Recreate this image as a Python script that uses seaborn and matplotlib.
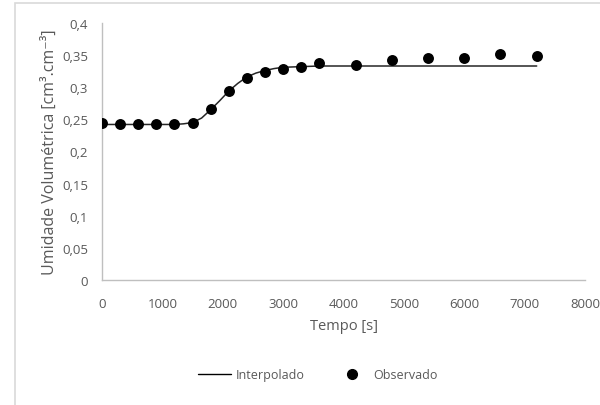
import matplotlib
matplotlib.use("Agg")
import matplotlib.pyplot as plt
from matplotlib.patches import Rectangle
from matplotlib.lines import Line2D
import seaborn as sns
import pandas as pd

# Observed moisture readings
tempo_obs = [0, 300, 600, 900, 1200, 1500, 1800, 2100, 2400, 2700, 3000,
             3300, 3600, 4200, 4800, 5400, 6000, 6600, 7200]
umidade_obs = [0.244, 0.242, 0.243, 0.242, 0.242, 0.245, 0.266, 0.294,
               0.315, 0.324, 0.329, 0.332, 0.338, 0.335, 0.342, 0.345,
               0.345, 0.352, 0.348]

# Interpolated curve
tempo_int = [0, 600, 1200, 1350, 1500, 1650, 1800, 1950, 2100, 2250, 2400,
             2550, 2700, 2850, 3000, 3300, 3600, 4200, 7200]
umidade_int = [0.242, 0.242, 0.242, 0.243, 0.245, 0.252, 0.265, 0.279,
               0.294, 0.306, 0.316, 0.322, 0.326, 0.329, 0.331, 0.332,
               0.333, 0.333, 0.333]

x_ticks = [0, 1000, 2000, 3000, 4000, 5000, 6000, 7000, 8000]
y_ticks = [0, 0.05, 0.1, 0.15, 0.2, 0.25, 0.3, 0.35, 0.4]
y_tick_labels = ["0", "0,05", "0,1", "0,15", "0,2", "0,25", "0,3", "0,35", "0,4"]

df_obs = pd.DataFrame({"Tempo": tempo_obs, "Umidade": umidade_obs})
df_int = pd.DataFrame({"Tempo": tempo_int, "Umidade": umidade_int})

sns.set_theme(style="white")
plt.rcParams["font.family"] = ["Open Sans", "DejaVu Sans"]

grey = "#595959"
fig = plt.figure(figsize=(6.0, 4.06), dpi=100)
ax = fig.add_axes([0.17, 0.308, 0.805, 0.633])

# chart-area frame
fig.patches.append(Rectangle((15 / 600, -0.1), 1.2, 1.1 - 4 / 406,
                             transform=fig.transFigure, fill=False,
                             edgecolor="#d9d9d9", linewidth=1.2, zorder=0))

sns.lineplot(data=df_int, x="Tempo", y="Umidade", ax=ax, color="#262626",
             linewidth=1.1, zorder=2)
sns.scatterplot(data=df_obs, x="Tempo", y="Umidade", ax=ax, color="black",
                s=62, edgecolor="black", linewidth=0, zorder=3)

ax.set_xlim(0, 8000)
ax.set_ylim(0, 0.4)
ax.set_xticks(x_ticks)
ax.set_xticklabels([str(t) for t in x_ticks])
ax.set_yticks(y_ticks)
ax.set_yticklabels(y_tick_labels)
ax.tick_params(axis="both", length=0, labelsize=9.5, labelcolor=grey)
ax.tick_params(axis="x", pad=12)
ax.tick_params(axis="y", pad=10)

for side in ["top", "right"]:
    ax.spines[side].set_visible(False)
for side in ["left", "bottom"]:
    ax.spines[side].set_color("#bfbfbf")
    ax.spines[side].set_linewidth(1.0)

ax.set_xlabel("Tempo [s]", fontsize=10.5, color=grey, labelpad=6)
ax.set_ylabel("Umidade Volumétrica [cm³.cm⁻³]", fontsize=11.5,
              color=grey, labelpad=3)

handles = [Line2D([0], [0], color="black", linewidth=1.0),
           Line2D([0], [0], marker="o", color="black", linestyle="none",
                  markersize=7)]
fig.legend(handles, ["Interpolado", "Observado"], loc="center",
           bbox_to_anchor=(0.53, 1 - 376 / 406), ncol=2, frameon=False,
           fontsize=9, labelcolor=grey, handlelength=2.6, columnspacing=2.5,
           handletextpad=0.4)

fig.savefig("out.png", dpi=100)
